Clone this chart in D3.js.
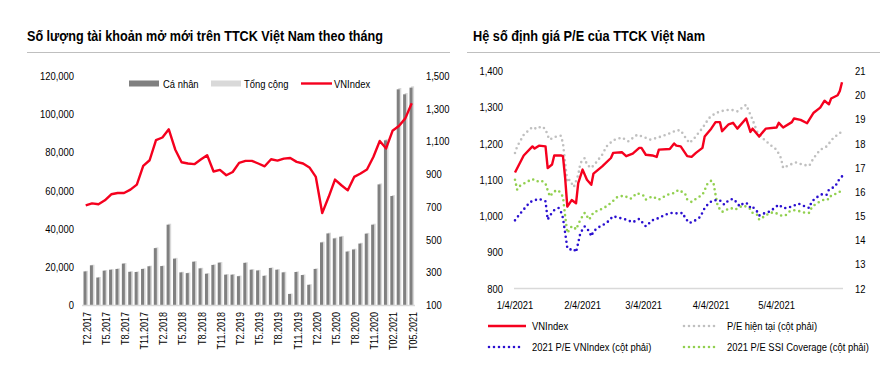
<!DOCTYPE html>
<html><head><meta charset="utf-8">
<script src="https://cdn.jsdelivr.net/npm/d3@7/dist/d3.min.js"></script>
<style>body{margin:0;background:#fff}svg{display:block}</style>
</head><body>
<svg id="c" width="896" height="371"></svg>
<script>
// ---------- DATA: left chart ----------
const months = ["T2.2017","T3.2017","T4.2017","T5.2017","T6.2017","T7.2017","T8.2017","T9.2017","T10.2017","T11.2017","T12.2017",
"T1.2018","T2.2018","T3.2018","T4.2018","T5.2018","T6.2018","T7.2018","T8.2018","T9.2018","T10.2018","T11.2018","T12.2018",
"T1.2019","T2.2019","T3.2019","T4.2019","T5.2019","T6.2019","T7.2019","T8.2019","T9.2019","T10.2019","T11.2019","T12.2019",
"T1.2020","T2.2020","T3.2020","T4.2020","T5.2020","T6.2020","T7.2020","T8.2020","T9.2020","T10.2020","T11.2020","T12.2020",
"T01.2021","T02.2021","T03.2021","T04.2021","T05.2021"];
const caNhan = [17600,20800,14400,18000,18500,18900,21700,17400,17300,18900,20300,29800,20400,42100,24300,17100,16700,22700,19200,16400,21000,22200,15900,15900,15100,22100,18500,18100,15300,19400,18500,17100,5800,17300,15700,10600,18900,32800,37500,34900,35800,28000,29100,32200,37400,42100,63200,86300,57100,113000,110400,113900];
const tongCong = [17900,21100,14700,18300,18800,19200,22000,17700,17600,19200,20600,30200,20700,42600,24700,17400,17000,23000,19500,16700,21300,22500,16200,16200,15400,22400,18800,18400,15600,19700,18800,17400,6000,17600,16000,10900,19200,33200,37900,35300,36200,28400,29500,32600,37800,42600,63700,86900,57600,113700,111100,114600];
const vnIndexMonthly = [709,721,716,740,777,785,785,805,836,950,985,1108,1124,1174,1051,973,965,961,989,1016,916,926,893,913,969,981,981,965,948,991,983,995,999,975,965,941,883,662,760,867,832,801,883,904,928,1005,1103,1057,1165,1194,1241,1333];
const leftTicks = [0,20000,40000,60000,80000,100000,120000];
const rightTicks = [100,300,500,700,900,1100,1300,1500];

// ---------- DATA: right chart (date "m/d" 2021, value) ----------
const vnIndexDaily = [["1/4",1120],["1/8",1167],["1/12",1192],["1/13",1186],["1/15",1194],["1/18",1192],["1/19",1132],["1/21",1142],["1/22",1167],["1/25",1167],["1/26",1165],["1/27",1105],["1/28",1026],["1/30",1044],["2/1",1035],["2/2",1091],["2/4",1128],["2/6",1100],["2/8",1086],["2/9",1117],["2/13",1137],["2/17",1160],["2/18",1174],["2/22",1176],["2/24",1165],["2/27",1172],["3/2",1188],["3/3",1188],["3/5",1169],["3/8",1167],["3/10",1163],["3/11",1183],["3/16",1185],["3/18",1200],["3/19",1194],["3/21",1192],["3/24",1165],["3/26",1163],["3/28",1174],["3/31",1188],["4/1",1219],["4/4",1241],["4/6",1259],["4/8",1259],["4/9",1234],["4/12",1253],["4/14",1257],["4/16",1241],["4/20",1269],["4/22",1232],["4/23",1241],["4/26",1219],["4/29",1241],["5/4",1244],["5/5",1257],["5/7",1244],["5/11",1259],["5/12",1269],["5/15",1265],["5/18",1256],["5/21",1285],["5/24",1299],["5/26",1318],["5/28",1308],["5/29",1324],["6/1",1333],["6/2",1345],["6/3",1369]];
const peHienTai = [["1/4",17.61],["1/5",17.88],["1/8",18.36],["1/12",18.68],["1/14",18.60],["1/16",18.71],["1/18",18.60],["1/19",18.32],["1/20",18.16],["1/22",18.27],["1/25",18.32],["1/26",18.02],["1/27",17.2],["1/28",16.4],["1/29",16.5],["1/31",16.2],["2/2",16.7],["2/3",17.19],["2/5",17.40],["2/6",17.12],["2/8",16.99],["2/10",17.19],["2/13",17.54],["2/15",17.88],["2/18",18.13],["2/22",18.25],["2/25",18.09],["3/1",18.36],["3/4",18.27],["3/7",18.16],["3/10",18.23],["3/13",18.32],["3/17",18.46],["3/19",18.55],["3/21",18.54],["3/23",18.27],["3/25",18.02],["3/27",18.19],["3/31",18.64],["4/3",19.05],["4/6",19.26],["4/10",19.37],["4/13",19.40],["4/16",19.33],["4/20",19.60],["4/21",19.40],["4/23",18.98],["4/25",18.50],["4/28",18.19],["5/1",17.95],["5/4",17.74],["5/6",17.40],["5/7",16.99],["5/10",17.12],["5/13",17.22],["5/16",17.12],["5/19",17.08],["5/21",17.40],["5/24",17.74],["5/27",17.88],["5/30",18.23],["6/3",18.50]];
const pe2021VN = [["1/4",14.82],["1/6",15.06],["1/9",15.38],["1/11",15.58],["1/13",15.65],["1/15",15.71],["1/18",15.61],["1/19",14.85],["1/20",15.02],["1/22",15.24],["1/24",15.33],["1/25",15.19],["1/26",14.92],["1/27",14.30],["1/28",13.68],["1/29",13.61],["1/31",13.64],["2/1",13.50],["2/2",13.89],["2/3",14.30],["2/5",14.57],["2/7",14.37],["2/8",14.16],["2/9",14.37],["2/12",14.57],["2/15",14.71],["2/18",14.99],["2/21",14.92],["2/24",14.85],["2/27",14.74],["3/2",14.88],["3/5",14.57],["3/8",14.82],["3/11",14.92],["3/14",15.06],["3/17",15.13],["3/20",15.10],["3/22",15.13],["3/23",14.92],["3/25",14.71],["3/27",14.78],["3/30",14.96],["4/1",15.33],["4/3",15.54],["4/5",15.65],["4/8",15.65],["4/10",15.47],["4/12",15.65],["4/14",15.71],["4/16",15.54],["4/17",15.40],["4/19",15.54],["4/21",15.51],["4/22",15.33],["4/23",15.38],["4/25",15.19],["4/26",15.02],["4/28",15.10],["5/1",15.19],["5/5",15.47],["5/7",15.33],["5/9",15.33],["5/12",15.43],["5/14",15.51],["5/17",15.40],["5/19",15.33],["5/20",15.58],["5/22",15.75],["5/25",15.91],["5/27",15.88],["5/28",16.09],["5/31",16.23],["6/1",16.43],["6/3",16.64]];
const pe2021SSI = [["1/4",16.50],["1/5",16.09],["1/6",16.23],["1/9",16.39],["1/12",16.53],["1/14",16.43],["1/16",16.47],["1/18",16.34],["1/19",16.06],["1/20",15.81],["1/22",16.02],["1/24",16.06],["1/25",15.90],["1/26",15.81],["1/27",15.00],["1/28",14.30],["1/30",14.57],["1/31",14.55],["2/1",14.44],["2/3",14.85],["2/5",15.13],["2/7",14.85],["2/9",15.15],["2/12",15.26],["2/15",15.40],["2/17",15.54],["2/20",15.79],["2/23",15.84],["2/26",15.71],["3/1",15.95],["3/4",15.84],["3/5",15.68],["3/8",15.81],["3/11",15.68],["3/15",15.88],["3/18",15.95],["3/20",16.08],["3/23",15.93],["3/24",15.68],["3/26",15.58],["3/28",15.71],["3/31",15.88],["4/1",16.06],["4/2",16.30],["4/4",16.46],["4/5",16.39],["4/6",15.88],["4/7",15.40],["4/9",15.17],["4/11",15.26],["4/13",15.33],["4/15",15.26],["4/17",15.37],["4/19",15.43],["4/22",15.29],["4/23",15.13],["4/25",15.06],["4/26",14.85],["4/29",15.02],["5/1",15.13],["5/3",15.15],["5/6",15.02],["5/8",15.02],["5/10",15.19],["5/12",15.24],["5/15",15.19],["5/17",15.13],["5/19",15.13],["5/20",15.33],["5/22",15.51],["5/25",15.65],["5/27",15.71],["5/28",15.68],["5/29",15.84],["6/1",15.95],["6/3",16.06]];
const dateTicks = ["1/4","2/4","3/4","4/4","5/4"];
const dateTickLabels = ["1/4/2021","2/4/2021","3/4/2021","4/4/2021","5/4/2021"];
const peLeftTicks = [800,900,1000,1100,1200,1300,1400];
const peRightTicks = [12,13,14,15,16,17,18,19,20,21];

// ---------- RENDER ----------
const FONT = "'Liberation Sans',Arial,sans-serif";
const SX = 0.82; // narrow (condensed) face emulation
const svg = d3.select("#c").style("font-family", FONT);
svg.append("rect").attr("width",896).attr("height",371).attr("fill","#fff");
const RED = "#f5001e";
const fmt = d3.format(",");

// narrow text helper
function ntext(parent, x, y, str, size, anchor, extra) {
  return parent.append("text")
    .attr("transform", `translate(${x},${y})${extra||""} scale(${SX},1)`)
    .attr("dy","0.35em").attr("text-anchor",anchor||"start").attr("font-size",size).attr("fill","#000").text(str);
}

// Titles
svg.append("text").attr("x",27).attr("y",41).attr("font-size",15).attr("font-weight","bold").attr("fill","#000")
  .attr("textLength",356).attr("lengthAdjust","spacingAndGlyphs")
  .text("Số lượng tài khoản mở mới trên TTCK Việt Nam theo tháng");
svg.append("line").attr("x1",27).attr("x2",450).attr("y1",52.5).attr("y2",52.5).attr("stroke","#bfbfbf").attr("stroke-width",1.2);
svg.append("text").attr("x",473).attr("y",41).attr("font-size",15).attr("font-weight","bold").attr("fill","#000")
  .attr("textLength",232).attr("lengthAdjust","spacingAndGlyphs")
  .text("Hệ số định giá P/E của TTCK Việt Nam");
svg.append("line").attr("x1",467).attr("x2",880).attr("y1",52.5).attr("y2",52.5).attr("stroke","#bfbfbf").attr("stroke-width",1.2);

// ---- Left chart ----
const xL = d3.scaleBand().domain(months).range([82.5, 414.9]);
const yL = d3.scaleLinear().domain([0,120000]).range([305,76]);
const yR = d3.scaleLinear().domain([100,1500]).range([305,76]);
const gL = svg.append("g");
gL.append("g").selectAll("rect").data(months).join("rect")
  .attr("x", d=>xL(d)+xL.bandwidth()/2-0.6).attr("width",3)
  .attr("y",(d,i)=>yL(tongCong[i])).attr("height",(d,i)=>yL(0)-yL(tongCong[i])).attr("fill","#d9d9d9");
gL.append("g").selectAll("rect").data(months).join("rect")
  .attr("x", d=>xL(d)+xL.bandwidth()/2-2.2).attr("width",3)
  .attr("y",(d,i)=>yL(caNhan[i])).attr("height",(d,i)=>yL(0)-yL(caNhan[i])).attr("fill","#808080");
gL.append("line").attr("x1",82).attr("x2",415).attr("y1",305.5).attr("y2",305.5).attr("stroke","#d9d9d9").attr("stroke-width",1.5);
gL.append("path").datum(vnIndexMonthly)
  .attr("d", d3.line().x((d,i)=>xL(months[i])+xL.bandwidth()/2).y(d=>yR(d)))
  .attr("fill","none").attr("stroke",RED).attr("stroke-width",2.4).attr("stroke-linejoin","round");
leftTicks.forEach(d=>ntext(gL, 74, yL(d), fmt(d), 11.5, "end"));
rightTicks.forEach(d=>ntext(gL, 426, yR(d), fmt(d), 11.5, "start"));
months.filter((d,i)=>i%3===0).forEach(d=>
  ntext(gL, xL(d)+xL.bandwidth()/2+1, 312, d, 11, "end", " rotate(-90)"));
// legend
gL.append("rect").attr("x",129).attr("y",80.5).attr("width",30).attr("height",6).attr("fill","#808080");
ntext(gL,163,84,"Cá nhân",11.5);
gL.append("rect").attr("x",211).attr("y",80.5).attr("width",30).attr("height",6).attr("fill","#d9d9d9");
ntext(gL,244,84,"Tổng cộng",11.5);
gL.append("line").attr("x1",301).attr("x2",332).attr("y1",83.5).attr("y2",83.5).attr("stroke",RED).attr("stroke-width",2.4);
ntext(gL,334,84,"VNIndex",11.5);

// ---- Right chart ----
const pd = s => { const [m,d] = s.split("/").map(Number); return new Date(2021, m-1, d); };
const xT = d3.scaleTime().domain([pd("1/4"), pd("6/3")]).range([515, 842]);
const yPL = d3.scaleLinear().domain([800,1400]).range([288.5,71]);
const yPR = d3.scaleLinear().domain([12,21]).range([288.5,71]);
const gR = svg.append("g");
gR.append("line").attr("x1",514).attr("x2",843).attr("y1",288.5).attr("y2",288.5).attr("stroke","#d9d9d9").attr("stroke-width",1.5);
const dotted = (data, color) => gR.append("path").datum(data)
  .attr("d", d3.line().x(d=>xT(pd(d[0]))).y(d=>yPR(d[1])))
  .attr("fill","none").attr("stroke",color).attr("stroke-width",2.6)
  .attr("stroke-dasharray","0 5").attr("stroke-linecap","round");
dotted(peHienTai, "#c0c0c0");
dotted(pe2021SSI, "#92d050");
dotted(pe2021VN, "#2a0fd0");
gR.append("path").datum(vnIndexDaily)
  .attr("d", d3.line().x(d=>xT(pd(d[0]))).y(d=>yPL(d[1])))
  .attr("fill","none").attr("stroke",RED).attr("stroke-width",2.4).attr("stroke-linejoin","round");
peLeftTicks.forEach(d=>ntext(gR, 503, yPL(d), fmt(d), 11.5, "end"));
peRightTicks.forEach(d=>ntext(gR, 855, yPR(d), String(d), 11.5, "start"));
dateTicks.forEach((d,i)=>ntext(gR, xT(pd(d)), 305, dateTickLabels[i], 11.5, "middle"));
// legend
const legItems = [
  {x:488, y:326, label:"VNIndex", color:RED, dot:false},
  {x:683, y:326, label:"P/E hiện tại (cột phải)", color:"#c0c0c0", dot:true},
  {x:488, y:347, label:"2021 P/E VNIndex (cột phải)", color:"#2a0fd0", dot:true},
  {x:683, y:347, label:"2021 P/E SSI Coverage (cột phải)", color:"#92d050", dot:true}];
legItems.forEach(it=>{
  const ln = gR.append("line").attr("x1",it.x+(it.dot?1:0)).attr("x2",it.x+(it.dot?36:38)).attr("y1",it.y).attr("y2",it.y)
    .attr("stroke",it.color).attr("stroke-width",it.dot?2.6:2.4);
  if(it.dot) ln.attr("stroke-dasharray","0 5").attr("stroke-linecap","round");
  ntext(gR, it.x+44, it.y, it.label, 11.5);
});
</script>
</body></html>
